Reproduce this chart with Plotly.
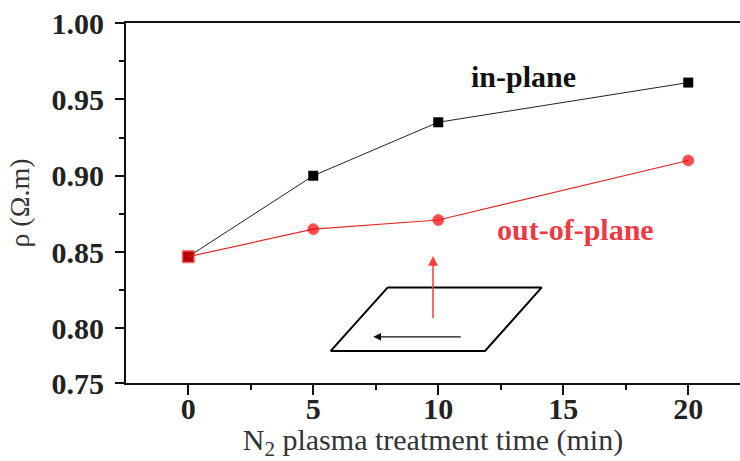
import plotly.graph_objects as go

# ---- data ----
time_min = [0, 5, 10, 20]
rho_in_plane = [0.847, 0.900, 0.935, 0.961]
rho_out_of_plane = [0.847, 0.865, 0.871, 0.910]
y_tick_values = [0.7643, 0.80, 0.85, 0.90, 0.95, 1.00]
y_tick_labels = ["0.75", "0.80", "0.85", "0.90", "0.95", "1.00"]
y_minor_ticks = [0.825, 0.875, 0.925, 0.975]
x_tick_values = [0, 5, 10, 15, 20]
x_tick_labels = ["0", "5", "10", "15", "20"]

SERIF = "Liberation Serif"
RED = "#ff0000"
TXT_RED = "#ec3a44"

fig = go.Figure()
fig.add_trace(go.Scatter(
    x=time_min, y=rho_in_plane, mode="lines+markers", name="in-plane",
    line=dict(color="#222222", width=1),
    marker=dict(symbol="square", size=10, color="black"),
))
fig.add_trace(go.Scatter(
    x=time_min, y=rho_out_of_plane, mode="lines+markers", name="out-of-plane",
    line=dict(color="#e02828", width=1.2),
    marker=dict(symbol=["square", "circle", "circle", "circle"], size=[12, 11, 11, 11], color=RED),
))

# inset schematic (parallelogram) in data coordinates
para_x = [7.98, 14.14, 11.87, 5.70, 7.98]
para_y = [0.8269, 0.8269, 0.7853, 0.7853, 0.8269]
fig.add_trace(go.Scatter(x=para_x, y=para_y, mode="lines",
                         line=dict(color="black", width=2), hoverinfo="skip"))

# arrows
fig.add_annotation(x=9.79, y=0.8474, ax=9.79, ay=0.8059, xref="x", yref="y",
                   axref="x", ayref="y", text="", showarrow=True,
                   arrowhead=2, arrowsize=1.3, arrowwidth=1.5, arrowcolor="#ff3b3b")
fig.add_annotation(x=7.40, y=0.7945, ax=10.96, ay=0.7945, xref="x", yref="y",
                   axref="x", ayref="y", text="", showarrow=True,
                   arrowhead=2, arrowsize=1.3, arrowwidth=1.2, arrowcolor="#111111")

fig.add_annotation(x=13.4, y=0.9648, xref="x", yref="y", text="<b>in-plane</b>",
                   showarrow=False, font=dict(family=SERIF, size=30, color="#111111"))
fig.add_annotation(x=15.5, y=0.8645, xref="x", yref="y", text="<b>out-of-plane</b>",
                   showarrow=False, font=dict(family=SERIF, size=30, color=TXT_RED))

fig.update_layout(
    width=740, height=461,
    margin=dict(l=126, r=0, t=23, b=78),
    plot_bgcolor="white", paper_bgcolor="white",
    showlegend=False,
    font=dict(family=SERIF, color="#222222"),
)
fig.update_xaxes(
    range=[-2.49, 22.07], tickvals=x_tick_values, ticktext=x_tick_labels,
    automargin=False,
    showgrid=False, zeroline=False,
    showline=True, linecolor="#111111", linewidth=2, mirror=True,
    ticks="outside", ticklen=10, tickwidth=2, tickcolor="#111111",
    minor=dict(ticks="outside", ticklen=5, tickwidth=2, tickcolor="#111111", dtick=2.5, tick0=0),
    tickfont=dict(family=SERIF, size=30, color="#222222", weight="bold"),
    ticklabelstandoff=-12,
    title=dict(text="N<sub>2</sub> plasma treatment time (min)",
               font=dict(family=SERIF, size=30, color="#333333"), standoff=2),
)
fig.update_yaxes(
    range=[0.7643, 1.0], tickvals=y_tick_values, ticktext=y_tick_labels,
    automargin=False,
    showgrid=False, zeroline=False,
    showline=True, linecolor="#111111", linewidth=2, mirror=False,
    ticks="outside", ticklen=9, tickwidth=2, tickcolor="#111111",
    minor=dict(ticks="outside", ticklen=5, tickwidth=2, tickcolor="#111111", tickvals=y_minor_ticks),
    tickfont=dict(family=SERIF, size=30, color="#222222", weight="bold"),
    ticklabelstandoff=5,
    title=dict(text="ρ (Ω.m)", font=dict(family=SERIF, size=28, color="#333333"), standoff=14),
)

fig.write_html("out.html", config={"displayModeBar": False},
               post_script="document.body.style.margin='0';document.body.style.overflow='hidden';")
